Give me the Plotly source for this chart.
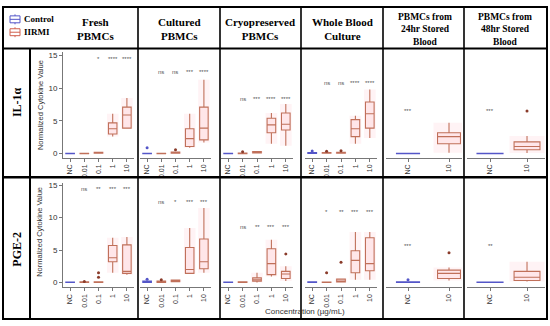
import plotly.graph_objects as go

W, H = 550, 326

CATS5 = ["NC", "0.01", "0.1", "1", "10"]
CATS2 = ["NC", "10"]
COL_TITLES = ["Fresh<br>PBMCs", "Cultured<br>PBMCs", "Cryopreserved<br>PBMCs",
              "Whole Blood<br>Culture", "PBMCs from<br>24hr Stored<br>Blood",
              "PBMCs from<br>48hr Stored<br>Blood"]
ROW_LABELS = ["IL-1α", "PGE-2"]
Y_TICKS = [0, 5, 10, 15]
LEGEND_NAMES = ["Control", "IIRMI"]

# ---- IL-1α row ----
IL1_FRESH = dict(q1=[0, 0, 0.05, 3.0, 3.9], med=[0, 0.02, 0.12, 3.8, 5.9], q3=[0.05, 0.05, 0.2, 4.7, 7.1],
                 lo=[0, 0, 0, 2.6, 3.8], hi=[0.05, 0.08, 0.3, 6.1, 8.5],
                 out_x=[], out_y=[], stars=["", "", "*", "****", "****"], star_y=14.5)
IL1_CULT = dict(q1=[0, 0, 0.05, 1.1, 2.1], med=[0, 0.02, 0.12, 2.3, 3.9], q3=[0.05, 0.06, 0.25, 3.8, 7.1],
                lo=[0, 0, 0, 0.9, 1.7], hi=[0.05, 0.08, 0.3, 6.1, 11.3],
                out_x=["NC", "0.1"], out_y=[0.9, 0.6], stars=["", "ns", "ns", "***", "****"], star_y=12.4)
IL1_CRYO = dict(q1=[0, 0, 0.1, 3.2, 3.6], med=[0, 0.03, 0.2, 4.4, 4.5], q3=[0.05, 0.08, 0.3, 5.4, 6.2],
                lo=[0, 0, 0.05, 1.5, 1.2], hi=[0.05, 0.1, 0.35, 6.2, 7.6],
                out_x=["0.01"], out_y=[0.3], stars=["", "ns", "***", "****", "****"], star_y=8.4)
IL1_WB = dict(q1=[0.05, 0.05, 0.05, 2.6, 3.9], med=[0.1, 0.1, 0.12, 3.8, 6.1], q3=[0.15, 0.15, 0.2, 5.2, 7.9],
              lo=[0, 0, 0, 1.5, 2.4], hi=[0.2, 0.2, 0.25, 5.8, 9.8],
              out_x=["NC", "0.01", "0.1"], out_y=[0.4, 0.35, 0.45], stars=["", "ns", "ns", "****", "****"], star_y=10.8)
IL1_24H = dict(q1=[0, 1.5], med=[0, 2.6], q3=[0.05, 3.2], lo=[0, 0.15], hi=[0.05, 4.7],
               out_x=[], out_y=[], stars=["***", ""], star_y=6.5)
IL1_48H = dict(q1=[0, 0.6], med=[0, 1.1], q3=[0.05, 1.8], lo=[0, 0.1], hi=[0.05, 2.7],
               out_x=["10"], out_y=[6.5], stars=["***", ""], star_y=6.5)

# ---- PGE-2 row ----
PGE_FRESH = dict(q1=[0, 0, 0, 3.2, 1.4], med=[0, 0.05, 0.05, 3.8, 1.7], q3=[0.05, 0.1, 0.1, 5.7, 5.8],
                 lo=[0, 0, 0, 1.5, 1.2], hi=[0.05, 0.15, 0.15, 6.9, 7.0],
                 out_x=["0.01", "0.1", "0.1"], out_y=[0.15, 0.8, 1.5], stars=["", "ns", "**", "***", "***"], star_y=14.4)
PGE_CULT = dict(q1=[0, 0, 0.1, 1.4, 2.1], med=[0.1, 0.1, 0.2, 2.0, 3.2], q3=[0.2, 0.2, 0.35, 5.4, 6.7],
                lo=[0, 0, 0.05, 1.4, 1.5], hi=[0.25, 0.25, 0.4, 8.4, 11.5],
                out_x=["NC", "0.01"], out_y=[0.5, 0.4], stars=["", "ns", "*", "***", "***"], star_y=12.4)
PGE_CRYO = dict(q1=[0, 0, 0.2, 1.2, 0.6], med=[0, 0.05, 0.4, 2.9, 1.3], q3=[0.05, 0.1, 0.7, 5.2, 1.7],
                lo=[0, 0, 0, 0.9, 0.2], hi=[0.05, 0.15, 1.5, 6.6, 2.5],
                out_x=["10"], out_y=[4.4], stars=["", "ns", "**", "***", "***"], star_y=8.5)
PGE_WB = dict(q1=[0, 0, 0.05, 1.5, 1.8], med=[0.05, 0.02, 0.2, 3.4, 2.9], q3=[0.1, 0.05, 0.5, 4.9, 6.9],
              lo=[0, 0, 0, 0.4, 0.4], hi=[0.15, 0.1, 0.6, 7.8, 7.8],
              out_x=["0.01", "0.1"], out_y=[1.5, 3.1], stars=["", "*", "**", "***", "***"], star_y=10.9)
PGE_24H = dict(q1=[0, 0.6], med=[0.05, 1.4], q3=[0.1, 1.9], lo=[0, 0.3], hi=[0.1, 2.3],
               out_x=["NC", "10"], out_y=[0.4, 4.6], stars=["***", ""], star_y=5.7)
PGE_48H = dict(q1=[0, 0.3], med=[0, 0.8], q3=[0.05, 1.7], lo=[0, 0.15], hi=[0.05, 3.2],
               out_x=[], out_y=[], stars=["**", ""], star_y=5.7)

PANELS = [[IL1_FRESH, IL1_CULT, IL1_CRYO, IL1_WB, IL1_24H, IL1_48H],
          [PGE_FRESH, PGE_CULT, PGE_CRYO, PGE_WB, PGE_24H, PGE_48H]]

# ---- layout geometry (pixels) ----
COL_DOM = [(63, 134), (140, 211), (221, 293), (305, 377), (386, 462), (467, 545)]
COL_RANGE = [[-0.5, 4.5]] * 4 + [[-0.537, 1.317], [-0.622, 1.486]]
BOX_W = [0.6, 0.6, 0.6, 0.6, 0.56, 0.7]
ROW_DOM = [(50, 157), (183, 288)]
ROW_RANGE = [[-0.6, 15.6], [-0.766, 15.31]]

BLUE = "#5456c8"
RED = "#c0705a"
RED_FILL = "rgba(255,205,212,0.35)"
BLUE_FILL = "rgba(84,86,200,0.15)"
SANS = "Liberation Sans, Arial, sans-serif"
SERIF = "Liberation Serif, Times New Roman, serif"


def px(x):
    return x / W


def py(y):
    return 1 - y / H


fig = go.Figure()
layout = dict(width=W, height=H, margin=dict(l=0, r=0, t=0, b=0),
              paper_bgcolor="white", plot_bgcolor="white", showlegend=False,
              boxmode="overlay")
annotations = []
shapes = []

for r in range(2):
    for c in range(6):
        k = r * 6 + c + 1
        sfx = "" if k == 1 else str(k)
        cats = CATS5 if c < 4 else CATS2
        d = PANELS[r][c]
        xa, ya = "x" + sfx, "y" + sfx
        bw = BOX_W[c]
        # faint halo behind IIRMI boxes
        fig.add_trace(go.Box(x=cats[1:], q1=d["lo"][1:], median=d["med"][1:], q3=d["hi"][1:],
                             lowerfence=d["lo"][1:], upperfence=d["hi"][1:],
                             xaxis=xa, yaxis=ya, width=bw * 1.35, whiskerwidth=0,
                             line=dict(color="rgba(0,0,0,0)", width=0),
                             fillcolor="rgba(255,200,210,0.22)", boxpoints=False, hoverinfo="skip"))
        # control
        fig.add_trace(go.Box(x=cats[:1], q1=d["q1"][:1], median=d["med"][:1], q3=d["q3"][:1],
                             lowerfence=d["lo"][:1], upperfence=d["hi"][:1],
                             xaxis=xa, yaxis=ya, width=bw, whiskerwidth=0,
                             line=dict(color=BLUE, width=1.2), fillcolor=BLUE_FILL,
                             boxpoints=False, name=LEGEND_NAMES[0]))
        # IIRMI
        fig.add_trace(go.Box(x=cats[1:], q1=d["q1"][1:], median=d["med"][1:], q3=d["q3"][1:],
                             lowerfence=d["lo"][1:], upperfence=d["hi"][1:],
                             xaxis=xa, yaxis=ya, width=bw, whiskerwidth=0,
                             line=dict(color=RED, width=1.1), fillcolor=RED_FILL,
                             boxpoints=False, name=LEGEND_NAMES[1]))
        if d["out_x"]:
            cols = [BLUE if ox == "NC" else "#8a3b2a" for ox in d["out_x"]]
            fig.add_trace(go.Scatter(x=d["out_x"], y=d["out_y"], mode="markers",
                                     xaxis=xa, yaxis=ya,
                                     marker=dict(size=3, color=cols), hoverinfo="skip"))
        x0, x1 = COL_DOM[c]
        y0, y1 = ROW_DOM[r]
        layout["xaxis" + sfx] = dict(domain=[px(x0), px(x1)], anchor=ya, type="category",
                                     categoryorder="array", categoryarray=cats,
                                     range=COL_RANGE[c], showgrid=False, zeroline=False,
                                     showline=True, linecolor="#777", linewidth=1,
                                     ticks="outside", ticklen=3, tickcolor="#777",
                                     tickangle=-90, tickfont=dict(size=7, family=SANS, color="#333"))
        yax = dict(domain=[py(y1), py(y0)], anchor=xa, range=ROW_RANGE[r],
                   showgrid=False, zeroline=False)
        if c == 0:
            yax.update(showline=True, linecolor="#777", linewidth=1, ticks="outside",
                       ticklen=3, tickcolor="#777", tickvals=Y_TICKS,
                       tickfont=dict(size=8, family=SANS, color="#333"))
        else:
            yax.update(showline=False, showticklabels=False, ticks="")
        layout["yaxis" + sfx] = yax
        for i, s in enumerate(d["stars"]):
            if s:
                annotations.append(dict(x=i, y=d["star_y"], xref=xa, yref=ya, text=s,
                                        xanchor="center", yanchor="middle",
                                        showarrow=False, font=dict(size=6, family=SANS, color="#555")))


def ann(x, y, text, size, family, color="black", angle=0, xanchor="center"):
    annotations.append(dict(x=px(x), y=py(y), xref="paper", yref="paper", text=text,
                            textangle=angle, showarrow=False, xanchor=xanchor, yanchor="middle",
                            align="center", font=dict(size=size, family=family, color=color)))


# column headers
HEAD_X = [95, 179, 260, 342, 425, 505]
for i, t in enumerate(COL_TITLES):
    big = i < 4
    ann(HEAD_X[i], 27.5 if big else 28, "<b>" + t + "</b>", 11 if big else 9.5, SERIF)
# row labels
for y, t in zip([101, 250], ROW_LABELS):
    ann(17, y, "<b>" + t + "</b>", 12, SERIF, angle=-90)
# y titles
for y in [104, 232]:
    ann(40, y, "Normalized Cytokine Value", 7.5, SANS, "#333", angle=-90)
# x title
ann(305, 312.5, "Concentration (µg/mL)", 8, SANS, "#333")

# legend (top-left cell)
for yc, col, name in [(17.5, BLUE, LEGEND_NAMES[0]), (30.5, "#d0604e", LEGEND_NAMES[1])]:
    shapes.append(dict(type="rect", xref="paper", yref="paper", x0=px(10), x1=px(20),
                       y0=py(yc + 3.5), y1=py(yc - 3.5), line=dict(color=col, width=1),
                       fillcolor="rgba(255,255,255,0)"))
    shapes.append(dict(type="line", xref="paper", yref="paper", x0=px(10), x1=px(20),
                       y0=py(yc), y1=py(yc), line=dict(color=col, width=1)))
    shapes.append(dict(type="line", xref="paper", yref="paper", x0=px(15), x1=px(15),
                       y0=py(yc - 3.5), y1=py(yc - 5), line=dict(color=col, width=1)))
    shapes.append(dict(type="line", xref="paper", yref="paper", x0=px(15), x1=px(15),
                       y0=py(yc + 3.5), y1=py(yc + 5), line=dict(color=col, width=1)))
    ann(22, yc, "<b>" + name + "</b>", 9, SERIF, xanchor="left")


# table grid
def hline(y, x0=3, x1=547, w=2):
    shapes.append(dict(type="line", xref="paper", yref="paper", x0=px(x0), x1=px(x1),
                       y0=py(y), y1=py(y), line=dict(color="black", width=w)))


def vline(x, y0=5, y1=320, w=2):
    shapes.append(dict(type="line", xref="paper", yref="paper", x0=px(x), x1=px(x),
                       y0=py(y0), y1=py(y1), line=dict(color="black", width=w)))


shapes.append(dict(type="rect", xref="paper", yref="paper", x0=px(3), x1=px(547),
                   y0=py(320), y1=py(5), line=dict(color="black", width=2)))
hline(47)
hline(177, w=2.5)
vline(30, 47, 320)
for xv in [138, 220, 301, 383, 464]:
    vline(xv, w=1.6)

layout["annotations"] = annotations
layout["shapes"] = shapes
fig.update_layout(**layout)
fig.write_html("out.html", config={"displayModeBar": False},
               post_script="document.body.style.margin='0px';document.body.style.overflow='hidden';")
